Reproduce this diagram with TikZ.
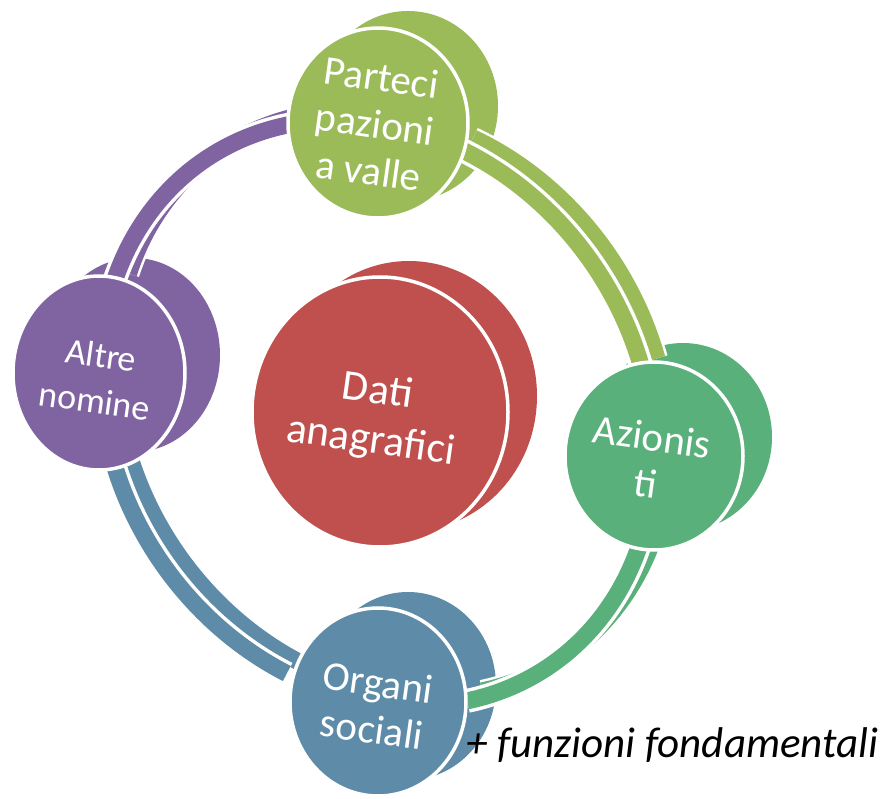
\documentclass[tikz,border=0pt]{standalone}
\usepackage{fontspec}
\setmainfont{Carlito}
\usetikzlibrary{shapes.geometric}
\definecolor{cpurple}{RGB}{128,100,162}
\definecolor{cgreen}{RGB}{155,187,89}
\definecolor{cred}{RGB}{192,80,77}
\definecolor{cgreentwo}{RGB}{90,176,122}
\definecolor{cblue}{RGB}{94,139,168}
\tikzset{
  disc/.style={ellipse, inner sep=0pt, outer sep=0pt},
  backdisc/.style={disc, fill=#1},
  frontdisc/.style={disc, fill=#1, draw=white, line width=3.5pt},
  lbl/.style={text=white, align=center, inner sep=0pt},
  bigfont/.style={font=\fontsize{41}{47}\selectfont},
}
\newcommand{\backband}[3]{%
  \draw[white, line width=22pt, shift={(15,-10)}] plot[domain=#2:#3, samples=90, variable=\t] ({377+277*cos(\t)},{413+42*cos(\t)-290*sin(\t)});
  \draw[#1, line width=17pt, shift={(15,-10)}] plot[domain=#2:#3, samples=90, variable=\t] ({377+277*cos(\t)},{413+42*cos(\t)-290*sin(\t)});
}
\newcommand{\frontband}[3]{%
  \draw[white, line width=24pt] plot[domain=#2:#3, samples=90, variable=\t] ({377+277*cos(\t)},{413+42*cos(\t)-290*sin(\t)});
  \draw[#1, line width=17pt] plot[domain=#2:#3, samples=90, variable=\t] ({377+277*cos(\t)},{413+42*cos(\t)-290*sin(\t)});
}
\begin{document}
\begin{tikzpicture}[x=1pt,y=-1pt]
\useasboundingbox (0,0) rectangle (887,799);
% back discs
\node[backdisc=cgreen, minimum width=180pt, minimum height=190pt] (pvb) at (408,106) {};
\node[backdisc=cpurple, minimum width=172pt, minimum height=194pt] (anb) at (134,355) {};
\node[backdisc=cred, minimum width=256pt, minimum height=270pt] (dab) at (409,396) {};
\node[backdisc=cgreentwo, minimum width=178pt, minimum height=188pt] (azb) at (683,437) {};
\node[backdisc=cblue, minimum width=176pt, minimum height=188pt] (osb) at (408,686) {};
% back bands
\backband{cpurple}{107}{162}
\backband{cgreen}{17}{73}
\backband{cgreentwo}{-71}{-18}
\backband{cblue}{199}{251}
% front bands
\frontband{cpurple}{107}{162}
\frontband{cgreen}{17}{73}
\frontband{cgreentwo}{-71}{-18}
\frontband{cblue}{199}{251}
% front discs
\node[frontdisc=cgreen, minimum width=180pt, minimum height=190pt] (pv) at (378,123) {};
\node[frontdisc=cpurple, minimum width=172pt, minimum height=194pt] (an) at (99,373) {};
\node[frontdisc=cred, minimum width=256pt, minimum height=270pt] (da) at (380,412) {};
\node[frontdisc=cgreentwo, minimum width=178pt, minimum height=188pt] (az) at (654,456) {};
\node[frontdisc=cblue, minimum width=176pt, minimum height=188pt] (os) at (378,702) {};
% labels
\node[lbl, bigfont, rotate=-8] (pvt) at (375,124) {Parteci\\pazioni\\a valle};
\node[lbl, font=\fontsize{36}{46}\selectfont, rotate=-8] (ant) at (98,378) {Altre\\nomine};
\node[lbl, font=\fontsize{43}{50}\selectfont, rotate=-8] (dat) at (374,417) {Dati\\anagrafici};
\node[lbl, bigfont, rotate=-8] (azt) at (649,460) {Azionis\\ti};
\node[lbl, bigfont, rotate=-8] (ost) at (375,706) {Organi\\sociali};
\node[anchor=base west, inner sep=0pt, font=\fontsize{43}{50}\selectfont\itshape] (fz) at (466,757) {+ funzioni fondamentali};
\end{tikzpicture}
\end{document}
